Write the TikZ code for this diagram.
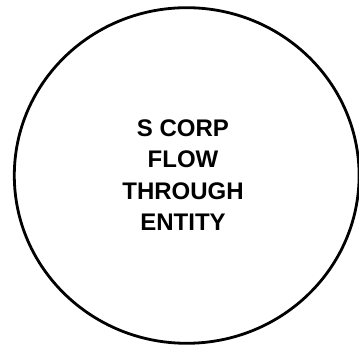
\documentclass[tikz,border=0pt]{standalone}
\usepackage{fontspec}
\setmainfont{Liberation Sans}
\usetikzlibrary{shapes.geometric}
\begin{document}
\begin{tikzpicture}[x=1pt,y=1pt,
  entity/.style={draw=black,line width=2.8pt,ellipse,minimum width=344.8pt,minimum height=335.6pt,inner sep=0pt},
  label/.style={align=center,font=\fontsize{24}{31.5}\selectfont\bfseries}]
\useasboundingbox (0,0) rectangle (359,347);
\node[entity] (circ) at (186.7,171.5) {};
\node[label] (txt) at (183,172) {S CORP\\FLOW\\THROUGH\\ENTITY};
\end{tikzpicture}
\end{document}
